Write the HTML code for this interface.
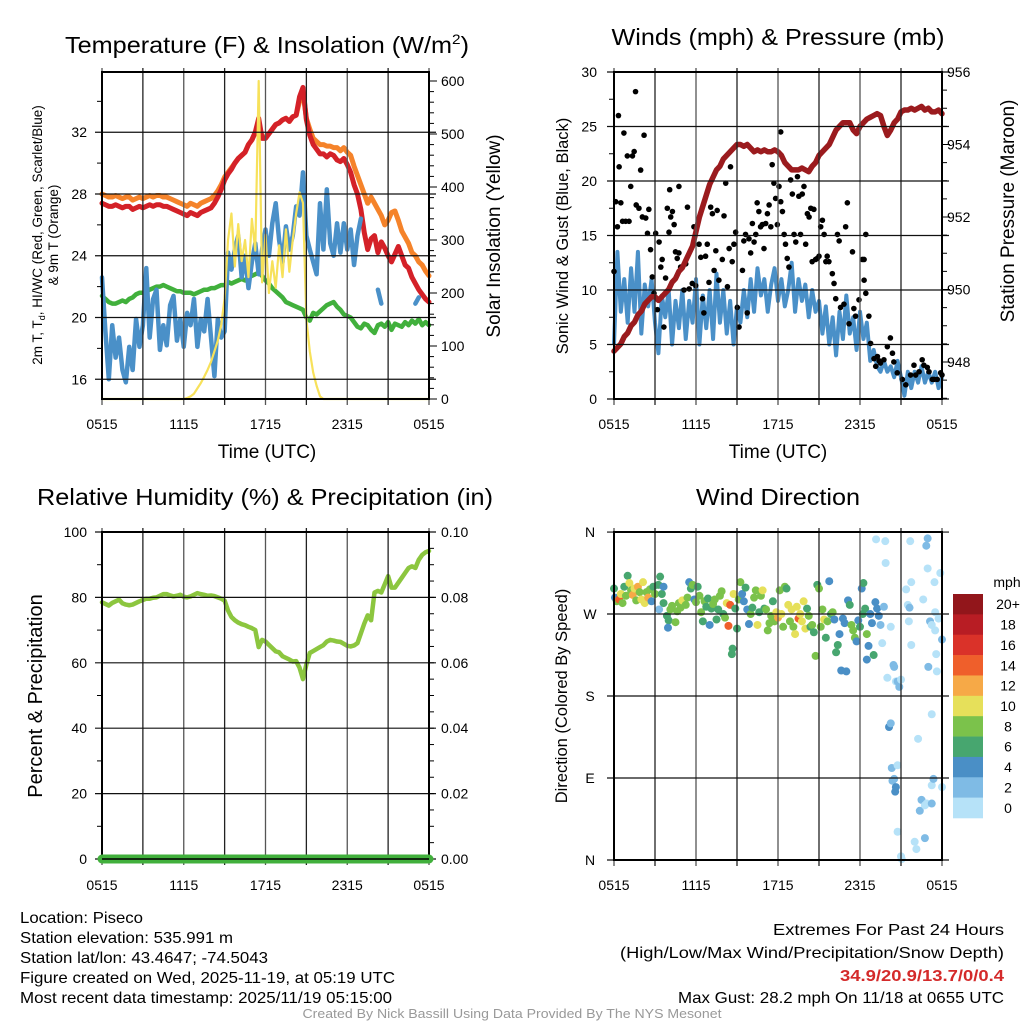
<!DOCTYPE html>
<html><head><meta charset="utf-8"><style>
html,body{margin:0;padding:0;background:#fff;}
svg{display:block;font-family:"Liberation Sans",sans-serif;}
</style></head><body>
<svg id="fig" width="1024" height="1024" viewBox="0 0 1024 1024" xmlns="http://www.w3.org/2000/svg">
<rect x="0" y="0" width="1024" height="1024" fill="#fff"/>
<g id="p1"></g>
<g id="p2"></g>
<g id="p3"></g>
<g id="p4"></g>
<g id="txt">
<text x="267" y="53" font-size="23" text-anchor="middle" textLength="404" lengthAdjust="spacingAndGlyphs">Temperature (F) &amp; Insolation (W/m<tspan font-size="14" dy="-9">2</tspan><tspan dy="9">)</tspan></text>
<text x="778" y="45" font-size="23" text-anchor="middle" textLength="333" lengthAdjust="spacingAndGlyphs">Winds (mph) &amp; Pressure (mb)</text>
<text x="265" y="505" font-size="23" text-anchor="middle" textLength="456" lengthAdjust="spacingAndGlyphs">Relative Humidity (%) &amp; Precipitation (in)</text>
<text x="778" y="505" font-size="23" text-anchor="middle" textLength="164" lengthAdjust="spacingAndGlyphs">Wind Direction</text>
<text x="267" y="458" font-size="19" text-anchor="middle">Time (UTC)</text>
<text x="778" y="458" font-size="19" text-anchor="middle">Time (UTC)</text>
<text transform="translate(42,235) rotate(-90)" font-size="13.5" text-anchor="middle">2m T, T<tspan font-size="9" dy="3">d</tspan><tspan dy="-3">, HI/WC (Red, Green, Scarlet/Blue)</tspan></text>
<text transform="translate(58,235) rotate(-90)" font-size="13.5" text-anchor="middle">&amp; 9m T (Orange)</text>
<text transform="translate(500,236) rotate(-90)" font-size="19" text-anchor="middle">Solar Insolation (Yellow)</text>
<text transform="translate(568,236) rotate(-90)" font-size="16.5" text-anchor="middle">Sonic Wind &amp; Gust (Blue, Black)</text>
<text transform="translate(1014,211) rotate(-90)" font-size="19" text-anchor="middle">Station Pressure (Maroon)</text>
<text transform="translate(42,696) rotate(-90)" font-size="20" text-anchor="middle">Percent &amp; Precipitation</text>
<text transform="translate(567,696) rotate(-90)" font-size="16.5" text-anchor="middle">Direction (Colored By Speed)</text>
<text x="20" y="923" font-size="16" textLength="123" lengthAdjust="spacingAndGlyphs">Location: Piseco</text>
<text x="20" y="943" font-size="16" textLength="213" lengthAdjust="spacingAndGlyphs">Station elevation: 535.991 m</text>
<text x="20" y="963" font-size="16" textLength="248" lengthAdjust="spacingAndGlyphs">Station lat/lon: 43.4647; -74.5043</text>
<text x="20" y="983" font-size="16" textLength="375" lengthAdjust="spacingAndGlyphs">Figure created on Wed, 2025-11-19, at 05:19 UTC</text>
<text x="20" y="1003" font-size="16" textLength="372" lengthAdjust="spacingAndGlyphs">Most recent data timestamp: 2025/11/19 05:15:00</text>
<text x="1004" y="935" font-size="16" text-anchor="end" textLength="231" lengthAdjust="spacingAndGlyphs">Extremes For Past 24 Hours</text>
<text x="1004" y="958" font-size="16" text-anchor="end" textLength="384" lengthAdjust="spacingAndGlyphs">(High/Low/Max Wind/Precipitation/Snow Depth)</text>
<text x="1004" y="981" font-size="16" font-weight="bold" fill="#d42a2a" text-anchor="end" textLength="164" lengthAdjust="spacingAndGlyphs">34.9/20.9/13.7/0/0.4</text>
<text x="1004" y="1003" font-size="16" text-anchor="end" textLength="326" lengthAdjust="spacingAndGlyphs">Max Gust: 28.2 mph On 11/18 at 0655 UTC</text>
<text x="512" y="1018" font-size="12.5" fill="#999" text-anchor="middle" textLength="419" lengthAdjust="spacingAndGlyphs">Created By Nick Bassill Using Data Provided By The NYS Mesonet</text>
</g>
</svg>
<script>
// ---------- data (index = 15-min step from 0515 UTC) ----------
const timeTicks = [0, 24, 48, 72, 96];
const timeTickLabels = ["0515", "1115", "1715", "2315", "0515"];
const tempRed = [27.4,27.3,27.2,27.2,27.3,27.2,27.1,27.2,27.2,
27.0,27.1,27.2,27.1,27.2,27.3,27.2,27.3,
27.3,27.2,27.2,27.1,27.0,26.9,26.8,26.7,
26.6,26.8,26.7,26.6,26.8,26.9,27.0,27.1,
27.4,27.8,28.3,28.9,29.3,29.6,30.0,30.3,
30.5,30.7,31.2,31.5,32.0,32.9,31.6,31.6,
31.9,32.2,32.5,32.6,32.8,32.9,32.7,33.0,
33.1,34.3,34.9,32.8,31.8,31.2,30.9,30.6,
30.6,30.4,30.6,30.5,30.2,30.1,30.3,29.9,
29.4,28.6,28.0,27.0,25.5,24.4,25.1,25.3,
24.2,24.9,24.5,24.0,23.6,24.1,24.6,24.0,
23.4,23.2,22.6,22.2,21.8,21.5,21.2,21.0];
const temp9m = [28.0,27.9,27.8,27.8,27.9,27.8,27.7,27.8,27.8,
27.6,27.7,27.8,27.7,27.8,27.9,27.8,27.9,
27.9,27.8,27.8,27.7,27.6,27.5,27.4,27.3,
27.2,27.4,27.3,27.2,27.4,27.5,27.6,27.7,
27.9,28.2,28.6,29.1,29.4,29.7,30.0,30.3,
30.5,30.7,31.2,31.5,32.0,32.5,31.7,31.7,
31.9,32.2,32.5,32.6,32.8,32.9,32.7,33.0,
33.1,34.0,34.6,32.9,32.2,31.6,31.4,31.2,
31.2,31.1,31.1,31.0,31.0,30.8,31.0,30.7,
30.5,29.8,29.2,28.6,28.0,27.4,27.8,27.4,
27.0,26.6,26.0,26.3,26.8,26.9,26.3,25.6,
25.2,24.8,24.2,24.0,23.6,23.4,23.0,22.7];
const dewGreen = [21.4,21.2,21.0,20.9,20.9,21.0,21.1,21.0,21.2,
21.3,21.5,21.6,21.6,21.7,21.8,21.9,22.0,
22.0,22.1,22.0,21.9,21.8,21.7,21.7,21.6,
21.6,21.6,21.5,21.6,21.7,21.8,21.8,21.9,
21.9,22.0,22.1,22.1,22.3,22.2,22.3,22.4,
22.5,22.4,22.6,22.7,22.8,22.9,22.7,22.4,
22.2,21.9,21.7,21.5,21.3,21.0,20.9,20.8,
20.7,20.6,20.5,20.0,19.8,20.3,20.2,20.4,
20.6,20.8,20.9,21.0,20.7,20.5,20.2,20.1,
20.0,19.7,19.4,19.3,19.6,19.5,19.2,19.0,
19.5,19.6,19.4,19.7,19.2,19.6,19.5,19.4,
19.7,19.5,19.8,19.6,19.9,19.5,19.7,19.5];
const windChill = [22.6,19.1,16.0,19.5,17.4,18.7,16.6,15.8,18.1,
16.6,19.9,18.1,19.5,23.2,18.7,21.2,21.8,
17.9,19.5,18.2,20.8,21.4,18.5,19.9,18.1,
20.3,19.5,21.2,18.1,19.9,19.1,21.2,18.7,
16.2,19.9,18.7,19.1,24.2,23.1,24.4,25.3,
22.6,24.0,21.9,23.6,24.8,22.8,24.4,25.7,
24.0,26.1,27.4,25.0,23.6,25.9,24.4,25.3,
27.2,26.6,29.4,25.3,24.4,23.6,22.8,27.4,
24.4,28.3,24.8,24.0,26.1,24.2,26.1,24.4,
25.7,23.4,25.3,26.4,null,null,null,null,
21.8,20.9,null,null,null,null,null,null,
null,null,null,20.9,21.3,null,null,null];
const insolation = [0,0,0,0,0,0,0,0,0,0,0,0,0,0,0,0,0,0,0,0,0,0,0,0,0,
2,5,10,20,30,42,55,70,90,110,140,190,300,350,250,330,260,300,230,340,280,600,220,310,200,260,210,290,230,320,240,300,350,390,370,150,90,50,25,5,
0,0,0,0,0,0,0,0,0,0,0,0,0,0,0,0,0,0,0,0,0,0,0,0,0,0,0,0,0,0,0,0];
const pressure = [948.3,948.4,948.5,948.7,948.8,949.0,949.1,949.3,949.4,
949.6,949.7,949.8,949.8,949.7,949.8,949.9,950.0,
950.2,950.3,950.5,950.6,950.8,951.0,951.2,951.6,
952.0,952.3,952.6,952.9,953.1,953.3,953.4,953.6,
953.7,953.8,953.9,954.0,954.0,953.95,954.0,953.9,
953.8,953.85,953.8,953.85,953.8,953.8,953.85,953.8,
953.7,953.5,953.4,953.3,953.3,953.3,953.35,953.3,
953.25,953.4,953.5,953.7,953.8,953.9,954.0,954.2,
954.4,954.5,954.6,954.6,954.6,954.4,954.3,954.5,
954.6,954.7,954.75,954.8,954.85,954.8,954.5,954.25,
954.4,954.6,954.7,954.9,954.95,954.95,955.0,954.95,
955.0,955.05,954.95,955.0,954.9,954.9,954.95,954.85];
const windSpeed = [5,13.5,8,11,7,12,8,13.5,6,10.5,8.5,11,7,4.2,9.5,7.5,10,5,9,6.5,10,5.5,9,7,11,5,9.5,6.5,10,5.5,11.5,7,10,6,9,5,8.5,7,10,7.5,11,8,12,9.5,11,8,10.5,12,9,11,8.5,10,12.5,8,11,9,10.5,7.5,10,8,9,6,8.5,5,7.5,4,8,5.5,9.5,6,7.5,4.5,8,5.5,7,3.5,4.5,3,2.5,3.5,2.5,3,2,3.5,2,0.3,2.5,1,2.5,1.5,3,1.5,2.5,1.5,2.5,1,2];
const gustTime = [0,0.5,1,1.3,1.5,2,2.5,2.9,3.4,3.9,4.4,4.9,5.4,5.9,6.3,6.5,7.3,7.8,8.3,8.8,9.3,9.8,10.2,10.7,11.2,11.7,12.2,12.7,13.2,13.7,14.1,14.6,15.1,15.6,16.1,16.3,16.6,17.1,17.6,18,18.5,19,19,19.5,20.5,21,21.5,22,22.9,23.4,23.9,24.9,25.4,25.9,26.3,26.8,27.3,27.8,28.3,28.8,29.3,29.8,30.2,30.7,31.7,32.2,32.7,33.2,33.7,34.1,34.6,35.1,35.6,36.1,36.6,37.6,38,38.5,39,39.5,40,40.5,41,41.5,41.9,42.4,42.9,43.4,43.9,44.4,44.9,45.4,45.9,46.3,46.8,47.3,47.8,48.3,48.8,48.8,49.3,49.8,50.2,50.7,51.2,51.7,52.2,52.7,53.2,53.7,54.1,54.6,55.1,55.6,56.1,56.6,57.1,57.6,58,58.5,59,59.5,60,60.5,61,61.5,62,62.4,62.9,63.9,64.4,64.9,65.4,65.9,66.3,67.3,67.8,68.3,68.8,69.8,70.2,70.7,71.7,72.7,73.2,73.7,73.2,73.7,74.6,75.1,76.1,76.6,77.1,77.6,78,79,80,80.9,81.5,81.9,82.9,84.4,85.4,86.8,87.8,88.3,89.3,90.2,90.7,91.7,92.2,93.2,93.7,94.6,95.6,96];
const gustSpeed = [11.7,18.1,15.8,26,21.3,18,16.3,24.4,16.3,22.3,16.3,19.5,22.3,22.7,28.2,17.8,17.5,21,16.7,24.2,16.6,15.2,17.4,13.7,11.2,9.7,15.2,8.2,14.4,12.1,12.8,6.6,11.1,17.5,15.3,19.2,16.7,17.2,16,13.5,12.9,19.5,13.4,12.1,10,12.4,17.6,10.1,10.6,15.8,10.4,14.2,13,9.2,7.9,13.1,14.2,10.7,17.6,17,11.8,13.6,17.3,10.9,12.8,16.8,19.8,10.3,13.8,21.3,12.6,14.2,15.3,8.4,6.6,11.8,14.5,15.1,7.9,14.7,13.4,16.1,14.4,15.1,18,17.2,15.8,16,13.8,16.1,17,17.8,15.8,21.5,19.8,18.4,16,19.5,24.5,18.1,17.2,15.1,14.2,12.9,12.1,20.1,18.8,15.1,14.4,20.4,18.6,15.1,18.8,19.5,14.2,17,16.7,17.5,12.6,17.4,12.8,12.9,13.1,15.8,16.4,15.1,12.6,13.1,12.6,11.5,10.6,9.2,15.1,14.5,8.4,8.7,15.8,18,6.9,13.5,8.3,7.6,9.1,12.8,12.8,15.1,10.9,9.7,7.6,5.1,3.7,3,3.9,3.5,3.3,3.6,4.8,5.6,4.2,3.4,2.4,1.8,1.3,2.2,3.1,2.2,2.5,3.6,3.1,2.9,2.5,1.8,1.8,1.8,2.4,2.2];
const rhValues = [78.5,78.0,77.5,78.3,78.8,79.3,78.2,77.8,77.6,
77.8,78.3,78.8,79.2,79.6,79.6,79.9,80.0,
80.5,81.0,81.0,80.6,80.3,80.5,80.8,80.2,
80.0,80.3,80.8,81.3,81.0,80.8,80.5,80.6,
80.4,80.0,79.6,79.0,76.0,74.0,73.0,72.3,
71.8,71.5,71.0,70.6,70.0,64.8,67.0,66.5,
65.5,64.5,63.5,63.2,62.0,61.5,61.0,60.4,
60.5,58.5,55.0,59.5,63.0,63.6,64.2,64.8,
65.4,66.5,67.0,66.8,66.5,66.4,65.8,65.2,
65.0,65.3,66.0,69.0,72.0,74.5,73.0,81.5,
82.0,81.5,84.0,86.5,83.0,83.0,84.5,86.0,
87.5,89.0,89.5,89.0,91.5,93.0,93.8,94.2];
const precipValues = [0,0,0,0,0,0,0,0,0,0,0,0,0,0,0,0,0,0,0,0,0,0,0,0,0,0,0,0,0,0,0,0,0,0,0,0,0,0,0,0,0,0,0,0,0,0,0,0,0,0,0,0,0,0,0,0,0,0,0,0,0,0,0,0,0,0,0,0,0,0,0,0,0,0,0,0,0,0,0,0,0,0,0,0,0,0,0,0,0,0,0,0,0,0,0,0,0];
const dirTime = [0,0.3,0.8,1.5,2,2.5,3,3.5,4,4.5,5,5.5,6,6.5,7,7.5,8,8.5,9,9.5,10,10.5,11,11.5,12,13,13.5,14,14.5,13.2,14.5,15.5,16,15.8,16.5,17,18,18.5,19,19.5,20,21,21.5,22,22.5,23,23.5,24,24.5,25,25.5,26,26.5,27,27.5,28,28.5,29,29.5,30,30.5,31,31.5,32,32.5,33,33.5,34,34.5,34.7,35,35.5,36,36.5,37,37.5,38,38.5,39,39.5,40,40.5,41,41.5,42,42.5,43,43.5,44,44.5,45,45.5,46,46.5,47,47.5,48,48.5,49,49.5,50,50.5,51,51.5,52,52.5,53,53.5,54,54.5,55,55.5,56,56.5,57,57.5,58,58.5,59,59.5,60,60.5,61,61.5,62,62.5,63,63.5,64,64.5,65,65.5,66,66.5,67,67.5,68,68.5,69,69.5,70,70.5,71,71.5,72,72.5,72.8,73,73.5,74,74.5,75,75.5,76,74,76.5,77,77.5,78,78.5,79,80,76.7,79.4,79.5,81,82,81.8,82.5,83,83.5,84,80.5,81,81.3,81.5,82,82.5,82.3,83,83,84,84.2,85.5,86,86.3,86.7,86.5,87,87,88,88.5,89,89.5,90,90.5,91,91.5,91,91.8,91.4,91.8,92,92.5,93,93,93,93,93.5,93.8,94,94,94.3,94.5,95,95.5,96,96];
const dirDeg = [298,288,284,286,292,282,300,290,312,304,296,291,298,285,300,294,286,305,282,294,288,297,284,300,292,302,311,292,300,275,282,268,263,255,275,279,261,273,282,277,285,280,288,305,298,302,286,283,300,290,272,262,284,278,287,258,276,281,286,264,275,290,295,270,266,282,257,280,226,232,292,276,254,286,305,292,284,299,275,259,270,277,288,296,258,272,290,296,276,275,252,260,268,284,262,272,266,296,270,256,300,298,280,262,275,256,248,278,265,270,262,284,254,276,268,256,258,250,224,302,298,256,275,264,244,262,306,270,272,264,228,236,248,208,265,260,207,285,280,258,252,244,240,263,256,298,270,304,276,248,235,270,260,225,220,283,276,268,258,238,278,200,352,350,326,256,212,214,196,196,190,198,146,150,101,87,89,80,75,104,31,4,1,297,280,262,350,277,305,236,20,12,133,54,66,286,60,62,24,353,345,320,212,262,258,160,82,62,89,305,272,252,226,207,265,315,80,242];
const dirSpeed = [6,4,8,15,10,9,6,9,7,10,8,12,10,8,13,9,11,10,10,8,12,8,4,7,8,6,6,7,4,3,6,6,6,4,9,8,8,8,9,8,10,9,9,4,7,8,4,9,6,9,9,6,8,7,6,4,6,9,8,6,7,8,9,7,8,10,14,14,6,6,10,7,7,9,8,5,4,7,4,4,8,6,8,8,10,6,9,10,7,9,8,8,9,7,8,11,13,9,10,8,8,7,10,9,10,8,10,10,14,10,11,10,10,6,8,7,8,6,8,7,9,8,9,10,6,9,4,6,8,4,6,6,4,4,4,4,4,4,6,8,8,8,4,4,6,4,6,6,6,8,4,4,4,6,4,4,4,4,2,1,2,1,1,1,1,1,2,3,1,2,3,1,4,3,2,3,2,4,4,1,1,1,1,1,1,1,1,2,1,1,1,1,1,3,3,1,1,1,2,3,3,1,3,3,1,1,1,2,3,1,1,1,1,1,1,1,1,3,1,1];
const speedBinLabels = ["20+","18","16","14","12","10","8","6","4","2","0"];
const speedBinColors = ["#92161b","#b81d24","#da3229","#ef5f2b","#f6a947","#e6e05a","#7bc24b","#47a66f","#4a8fc6","#7fbbe5","#b6e2f8"];

// ---------- helpers ----------
const NS = "http://www.w3.org/2000/svg";
function mk(parent, tag, attrs) {
  const e = document.createElementNS(NS, tag);
  for (const k in attrs) e.setAttribute(k, attrs[k]);
  parent.appendChild(e);
  return e;
}
function pathFrom(vals, xf, yf) {
  let d = "", pen = false;
  for (let i = 0; i < vals.length; i++) {
    if (vals[i] === null) { pen = false; continue; }
    d += (pen ? "L" : "M") + xf(i).toFixed(2) + " " + yf(vals[i]).toFixed(2);
    pen = true;
  }
  return d;
}
function gridAndFrame(g, x0, x1, y0, y1, hVals, hY, nameP) {
  for (let k = 0; k <= 8; k++) {
    const x = x0 + k * (x1 - x0) / 8;
    const l = mk(g, "line", {x1: x, y1: y0 - 4, x2: x, y2: y1 + 6, stroke: (k % 2 ? "#222" : "#555"), "stroke-width": 1.3});
    
    
  }
  hVals.forEach(v => {
    const y = hY(v);
    const l = mk(g, "line", {x1: x0 - 7, y1: y, x2: x1 + 7, y2: y, stroke: "#111", "stroke-width": 1.2});
    
    
  });
  const f = mk(g, "rect", {x: x0, y: y0, width: x1 - x0, height: y1 - y0, fill: "none", stroke: "#000", "stroke-width": 2});
  
  
}
function tickLabels(g, x0, x1, yLab, nameP) {
  timeTicks.forEach((t, k) => {
    const e = mk(g, "text", {x: x0 + t * (x1 - x0) / 96, y: yLab, "font-size": 14, "text-anchor": "middle"});
    e.textContent = timeTickLabels[k];
    
    
  });
}
function yTicks(g, vals, yf, x, anchor, fmt, nameP, side) {
  vals.forEach(v => {
    const e = mk(g, "text", {x: x, y: yf(v) + 5, "font-size": 14, "text-anchor": anchor});
    e.textContent = fmt(v);
    
    
  });
}
function minorTicks(g, vals, yf, x, dir, len, nameP) {
  vals.forEach(v => {
    const y = yf(v);
    const l = mk(g, "line", {x1: x, y1: y, x2: x + dir * len, y2: y, stroke: "#000", "stroke-width": 1});
    
    
  });
}
function range(a, b, s) { const r = []; for (let v = a; v <= b + 1e-9; v += s) r.push(+v.toFixed(4)); return r; }

// ---------- panel 1 ----------
(function () {
  const g = document.getElementById("p1");
  const X0 = 102, X1 = 429, Y0 = 72, Y1 = 399;
  const xs = i => X0 + i * (X1 - X0) / 96;
  const yT = t => Y0 + (35.9 - t) * 15.44;
  const yI = w => Y1 - w * 0.53;
  let p;
  p = mk(g, "path", {d: pathFrom(temp9m, xs, yT), fill: "none", stroke: "#f5832a", "stroke-width": 5, "stroke-linejoin": "round", "stroke-linecap": "round"});
  
  
  p = mk(g, "path", {d: pathFrom(tempRed, xs, yT), fill: "none", stroke: "#d42128", "stroke-width": 5, "stroke-linejoin": "round", "stroke-linecap": "round"});
  
  
  p = mk(g, "path", {d: pathFrom(dewGreen, xs, yT), fill: "none", stroke: "#41b03c", "stroke-width": 4.5, "stroke-linejoin": "round", "stroke-linecap": "round"});
  
  
  p = mk(g, "path", {d: pathFrom(windChill, xs, yT), fill: "none", stroke: "#4a90c8", "stroke-width": 4.5, "stroke-linejoin": "round", "stroke-linecap": "round"});
  
  
  p = mk(g, "path", {d: pathFrom(insolation, xs, yI), fill: "none", stroke: "#f7e15a", "stroke-width": 2.2, "stroke-linejoin": "round"});
  
  
  gridAndFrame(g, X0, X1, Y0, Y1, [16, 20, 24, 28, 32], yT, "p1");
  minorTicks(g, range(18, 34, 4), yT, X0, -1, 5, "p1-left");
  minorTicks(g, range(0, 600, 20), yI, X1, 1, 5, "p1-right");
  minorTicks(g, range(0, 600, 100), yI, X1, 1, 8, "p1-right-major");
  yTicks(g, [16, 20, 24, 28, 32], yT, 87, "end", v => String(v), "p1", "left");
  yTicks(g, [0, 100, 200, 300, 400, 500, 600], yI, 441, "start", v => String(v), "p1", "right");
  tickLabels(g, X0, X1, 429, "p1");
})();

// ---------- panel 2 ----------
(function () {
  const g = document.getElementById("p2");
  const X0 = 614, X1 = 942, Y0 = 72, Y1 = 399;
  const xs = i => X0 + i * (X1 - X0) / 96;
  const yW = w => Y1 - w * 10.9;
  const yP = p => Y0 + (956 - p) * 36.25;
  let p = mk(g, "path", {d: pathFrom(windSpeed, xs, yW), fill: "none", stroke: "#4a90c8", "stroke-width": 4, "stroke-linejoin": "round"});
  
  
  gustTime.forEach((t, k) => {
    const c = mk(g, "circle", {cx: xs(t), cy: yW(gustSpeed[k]), r: 2.8, fill: "#000"});
    
    
  });
  p = mk(g, "path", {d: pathFrom(pressure, xs, yP), fill: "none", stroke: "#9b1b1e", "stroke-width": 5.5, "stroke-linejoin": "round", "stroke-linecap": "round"});
  
  
  gridAndFrame(g, X0, X1, Y0, Y1, [0, 5, 10, 15, 20, 25, 30], yW, "p2");
  minorTicks(g, range(2.5, 27.5, 5), yW, X0, -1, 5, "p2-left");
  minorTicks(g, range(947, 956, 0.5), yP, X1, 1, 5, "p2-right");
  minorTicks(g, range(948, 956, 2), yP, X1, 1, 8, "p2-right-major");
  yTicks(g, [0, 5, 10, 15, 20, 25, 30], yW, 597, "end", v => String(v), "p2", "left");
  yTicks(g, [948, 950, 952, 954, 956], yP, 947, "start", v => String(v), "p2", "right");
  tickLabels(g, X0, X1, 429, "p2");
})();

// ---------- panel 3 ----------
(function () {
  const g = document.getElementById("p3");
  const X0 = 102, X1 = 429, Y0 = 532, Y1 = 859;
  const xs = i => X0 + i * (X1 - X0) / 96;
  const yR = r => Y1 - r * 3.27;
  const yPr = v => Y1 - v * 3270;
  let p = mk(g, "path", {d: pathFrom(rhValues, xs, yR), fill: "none", stroke: "#8cc63f", "stroke-width": 4.5, "stroke-linejoin": "round", "stroke-linecap": "round"});
  
  
  gridAndFrame(g, X0, X1, Y0, Y1, [0, 20, 40, 60, 80, 100], yR, "p3");
  p = mk(g, "path", {d: pathFrom(precipValues, xs, yPr), fill: "none", stroke: "#41b03c", "stroke-width": 9, "stroke-linecap": "round"});
  
  
  const fl = mk(g, "line", {x1: X0, y1: Y1, x2: X1, y2: Y1, stroke: "#000", "stroke-width": 1.5});
  
  
  minorTicks(g, range(10, 90, 20), yR, X0, -1, 5, "p3-left");
  minorTicks(g, range(0.005, 0.095, 0.005), yPr, X1, 1, 5, "p3-right");
  yTicks(g, [0, 20, 40, 60, 80, 100], yR, 87, "end", v => String(v), "p3", "left");
  yTicks(g, [0, 0.02, 0.04, 0.06, 0.08, 0.10], yPr, 441, "start", v => v.toFixed(2), "p3", "right");
  tickLabels(g, X0, X1, 890, "p3");
})();

// ---------- panel 4 ----------
(function () {
  const g = document.getElementById("p4");
  const X0 = 614, X1 = 942, Y0 = 532, Y1 = 860;
  const xs = i => X0 + i * (X1 - X0) / 96;
  const yD = d => Y1 - d * 0.911;
  const binOf = s => Math.min(10, Math.floor(s / 2));
  dirTime.forEach((t, k) => {
    const col = speedBinColors[10 - binOf(dirSpeed[k])];
    const c = mk(g, "circle", {cx: xs(t), cy: yD(dirDeg[k]), r: 4, fill: col});
    
    
  });
  gridAndFrame(g, X0, X1, Y0, Y1, [0, 90, 180, 270, 360], yD, "p4");
  const dirLabels = ["N", "E", "S", "W", "N"];
  [0, 90, 180, 270, 360].forEach((d, k) => {
    const e = mk(g, "text", {x: 590, y: yD(d) + 5, "font-size": 14, "text-anchor": "middle"});
    e.textContent = dirLabels[k];
    
    
  });
  tickLabels(g, X0, X1, 890, "p4");
  // colorbar
  const CB0 = 594, CBH = 224 / 11;
  const mph = mk(g, "text", {x: 1007, y: 587, "font-size": 14, "text-anchor": "middle"});
  mph.textContent = "mph";
  
  
  speedBinColors.forEach((c, k) => {
    const r = mk(g, "rect", {x: 953, y: CB0 + k * CBH, width: 30, height: CBH + 0.3, fill: c});
    
    
    const e = mk(g, "text", {x: 1008, y: CB0 + (k + 0.5) * CBH + 5, "font-size": 14, "text-anchor": "middle"});
    e.textContent = speedBinLabels[k];
    
    
  });
})();
</script>
</body></html>
